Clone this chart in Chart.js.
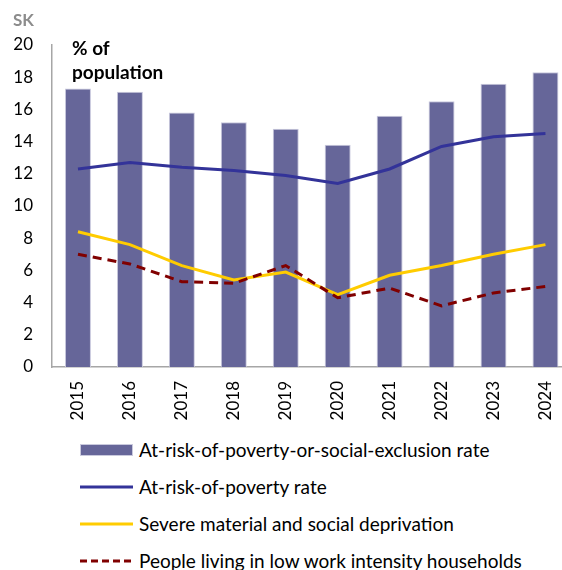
<!DOCTYPE html>
<html>
<head>
<meta charset="utf-8">
<script src="https://cdn.jsdelivr.net/npm/chart.js@4"></script>
<style>
  html, body { margin: 0; padding: 0; background: #fff; overflow: hidden; }
  #wrap { position: relative; width: 562px; height: 570px; overflow: hidden; font-family: Lato, "Open Sans", sans-serif; }
  #chartBox { position: absolute; left: 0; top: 0; width: 580px; height: 430px; }
  .country { position: absolute; left: 13px; top: 9px; font-size: 17px; font-weight: bold; color: #8c8c8c; }
  .unit { position: absolute; left: 72px; top: 36px; font-size: 19px; font-weight: bold; line-height: 24px; color: #000; }
  #legend { position: absolute; left: 80px; top: 431px; }
  .item { display: flex; align-items: center; height: 37px; font-size: 19px; color: #000; }
  .swatch { width: 53px; margin-right: 6px; flex: none; }
</style>
</head>
<body>
<div id="wrap">
  <div id="chartBox"><canvas id="myChart"></canvas></div>
  <div class="country">SK</div>
  <div class="unit">% of<br>population</div>
  <div id="legend"></div>
</div>
<script>
// 연도
const years = ['2015', '2016', '2017', '2018', '2019', '2020', '2021', '2022', '2023', '2024'];

// 지표별 값 (%)
const aropeRate = [17.3, 17.1, 15.8, 15.2, 14.8, 13.8, 15.6, 16.5, 17.6, 18.3];
const aropRate = [12.3, 12.7, 12.4, 12.2, 11.9, 11.4, 12.3, 13.7, 14.3, 14.5];
const smsdRate = [8.4, 7.6, 6.3, 5.4, 5.9, 4.5, 5.7, 6.3, 7.0, 7.6];
const lwiRate = [7.0, 6.4, 5.3, 5.2, 6.3, 4.3, 4.9, 3.8, 4.6, 5.0];

// y축 눈금
const yTicks = [0, 2, 4, 6, 8, 10, 12, 14, 16, 18, 20];

const seriesNames = [
    'At-risk-of-poverty-or-social-exclusion rate',
    'At-risk-of-poverty rate',
    'Severe material and social deprivation',
    'People living in low work intensity households'
];

const tickFont = { family: 'Lato, "Open Sans", sans-serif', size: 17 };

const data = {
    labels: years,
    datasets: [{
        type: 'line',
        label: seriesNames[1],
        data: aropRate,
        borderColor: '#333399',
        borderWidth: 3,
        pointRadius: 0,
        tension: 0,
        order: 1
    }, {
        type: 'line',
        label: seriesNames[2],
        data: smsdRate,
        borderColor: '#ffcc00',
        borderWidth: 3,
        pointRadius: 0,
        tension: 0,
        order: 2
    }, {
        type: 'line',
        label: seriesNames[3],
        data: lwiRate,
        borderColor: '#800000',
        borderWidth: 3,
        borderDash: [9, 6],
        pointRadius: 0,
        tension: 0,
        order: 0
    }, {
        type: 'bar',
        label: seriesNames[0],
        data: aropeRate,
        backgroundColor: '#666699',
        borderColor: '#c9c9dd',
        borderWidth: { left: 1, right: 1, top: 1, bottom: 0 },
        barPercentage: 0.5,
        categoryPercentage: 1,
        order: 10
    }]
};

const config = {
    data: data,
    options: {
        responsive: true,
        maintainAspectRatio: false,
        animation: false,
        layout: { padding: { top: 45, right: 3, left: 0, bottom: 0 } },
        scales: {
            x: {
                grid: { display: false, drawTicks: false },
                border: { display: true, color: '#a6a6a6', width: 1.5 },
                ticks: {
                    font: tickFont,
                    color: '#000',
                    minRotation: 90,
                    maxRotation: 90,
                    padding: 14
                },
                afterFit: function (scale) { scale.height = 63; }
            },
            y: {
                min: 0,
                max: 20,
                afterBuildTicks: function (scale) {
                    scale.ticks = yTicks.map(function (v) { return { value: v }; });
                },
                grid: { display: false, drawTicks: false },
                border: { display: true, color: '#a6a6a6', width: 1.5 },
                ticks: { font: tickFont, color: '#000', padding: 19 },
                afterFit: function (scale) { scale.width = 52; }
            }
        },
        plugins: {
            legend: { display: false },
            tooltip: { enabled: false }
        }
    }
};

const myChart = new Chart(document.getElementById('myChart').getContext('2d'), config);

// 범례 (세로 배치)
const legendBox = document.getElementById('legend');
const swatches = [
    '<div class="swatch" style="height:12px;background:#666699;border:1px solid #c9c9dd;box-sizing:border-box"></div>',
    '<svg class="swatch" height="4"><line x1="0" y1="2" x2="53" y2="2" stroke="#333399" stroke-width="3"/></svg>',
    '<svg class="swatch" height="4"><line x1="0" y1="2" x2="53" y2="2" stroke="#ffcc00" stroke-width="3"/></svg>',
    '<svg class="swatch" height="4"><line x1="0" y1="2" x2="53" y2="2" stroke="#800000" stroke-width="3" stroke-dasharray="7 4"/></svg>'
];
seriesNames.forEach(function (name, i) {
    const row = document.createElement('div');
    row.className = 'item';
    row.innerHTML = swatches[i] + '<span style="white-space:nowrap">' + name + '</span>';
    legendBox.appendChild(row);
});
</script>
</body>
</html>
